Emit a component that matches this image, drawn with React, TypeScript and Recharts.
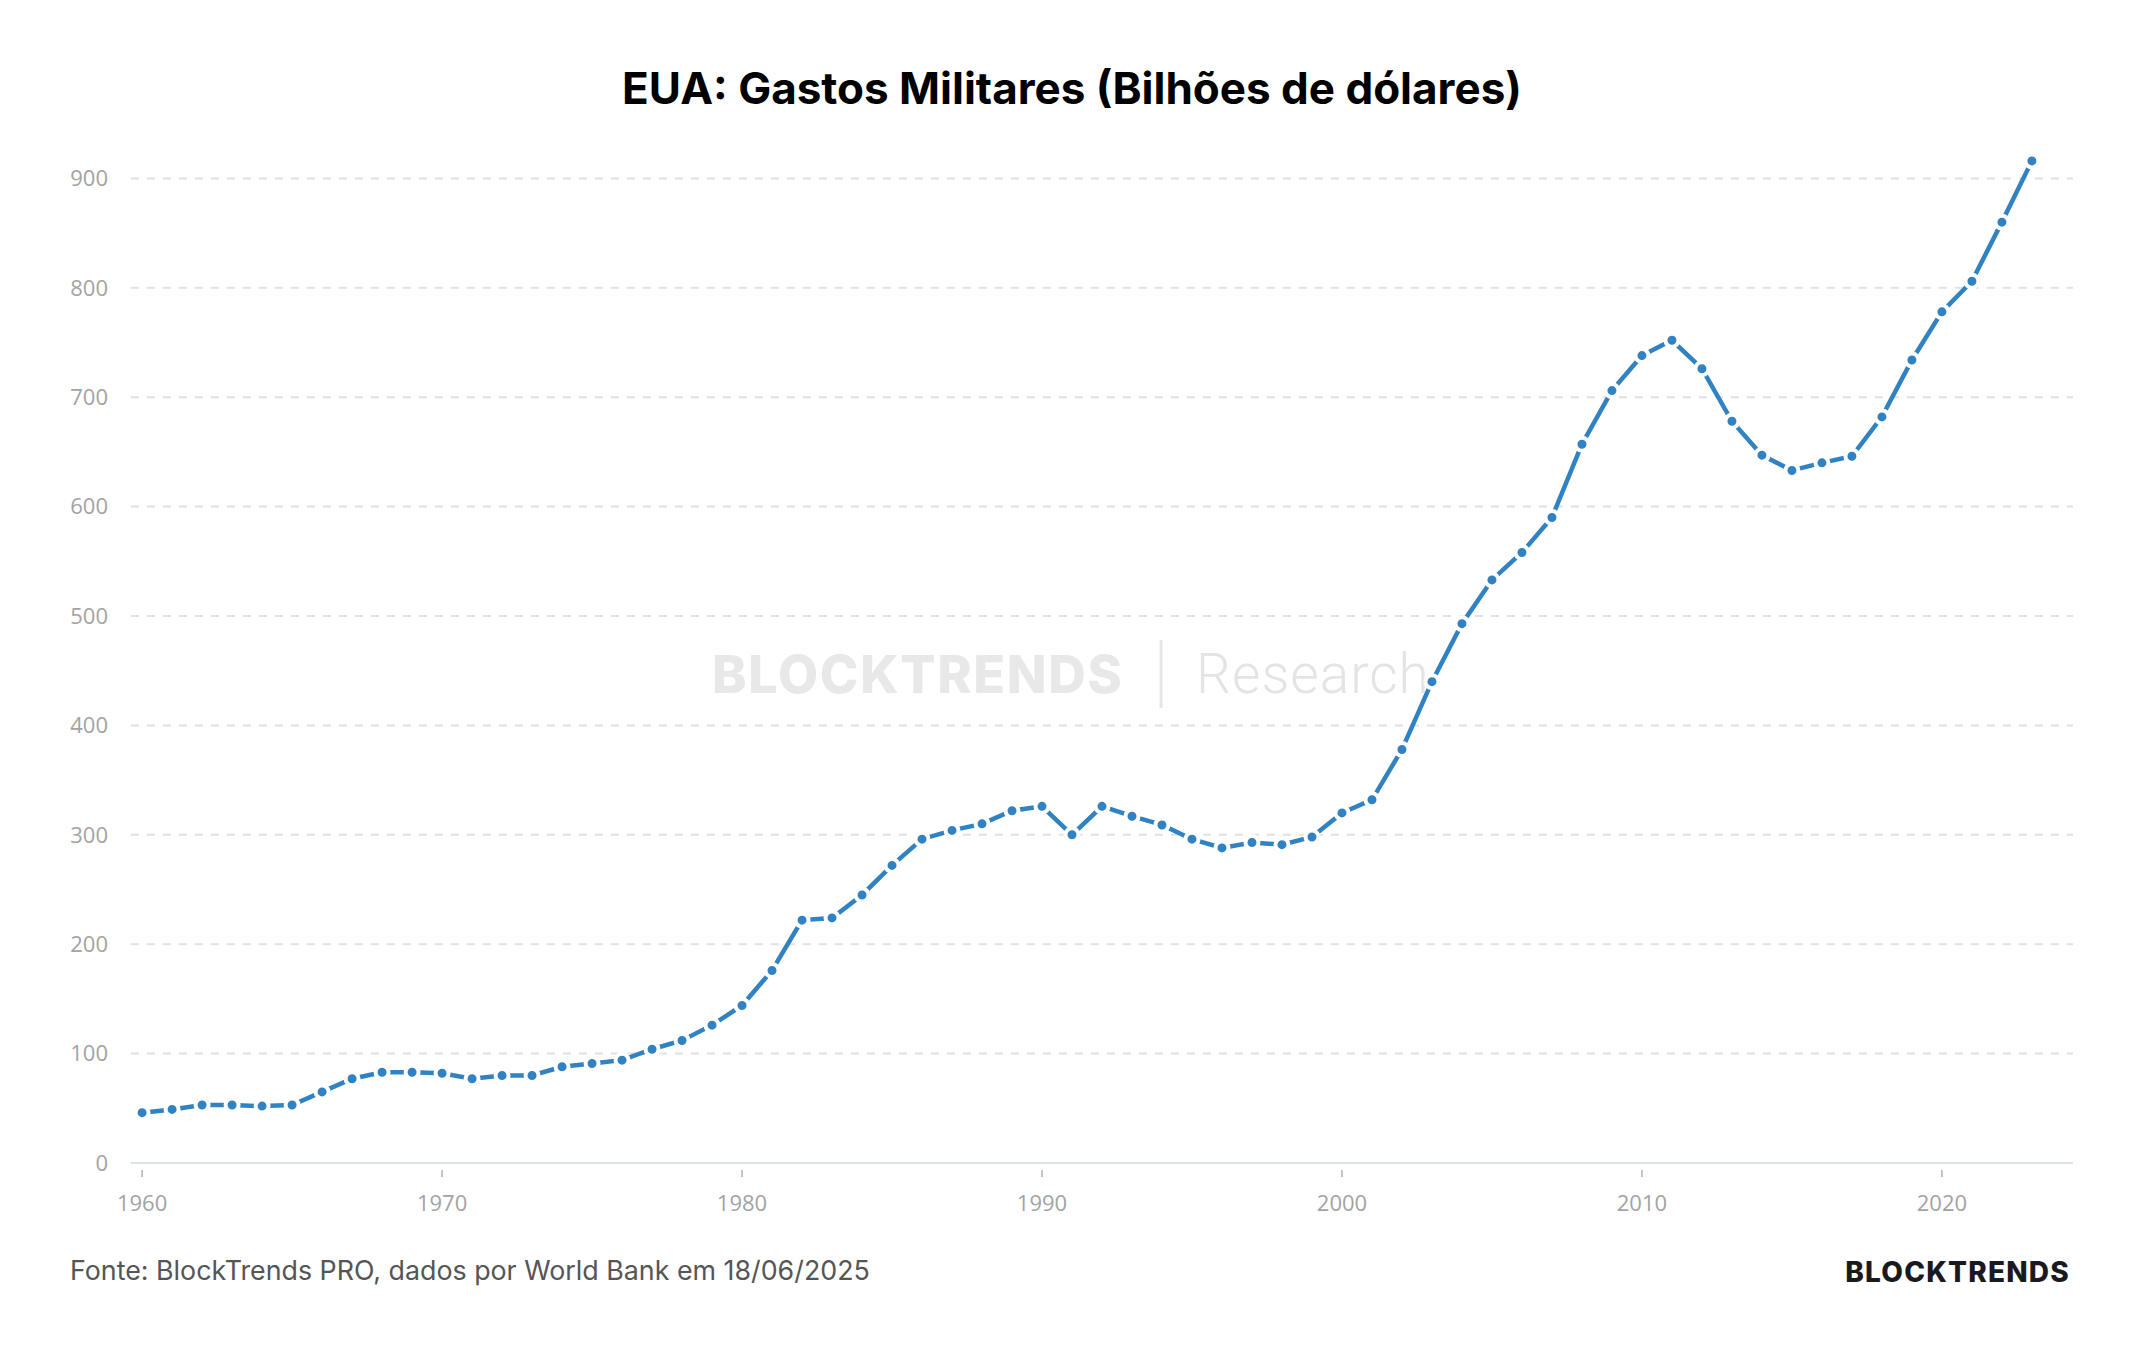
import React from 'react'
import { LineChart, Line, XAxis, YAxis, CartesianGrid } from 'recharts'

const years = [
  1960, 1961, 1962, 1963, 1964, 1965, 1966, 1967, 1968, 1969,
  1970, 1971, 1972, 1973, 1974, 1975, 1976, 1977, 1978, 1979,
  1980, 1981, 1982, 1983, 1984, 1985, 1986, 1987, 1988, 1989,
  1990, 1991, 1992, 1993, 1994, 1995, 1996, 1997, 1998, 1999,
  2000, 2001, 2002, 2003, 2004, 2005, 2006, 2007, 2008, 2009,
  2010, 2011, 2012, 2013, 2014, 2015, 2016, 2017, 2018, 2019,
  2020, 2021, 2022, 2023,
]

// bilhões de dólares
const spending = [
  46, 49, 53, 53, 52, 53, 65, 77, 83, 83,
  82, 77, 80, 80, 88, 91, 94, 104, 112, 126,
  144, 176, 222, 224, 245, 272, 296, 304, 310, 322,
  326, 300, 326, 317, 309, 296, 288, 293, 291, 298,
  320, 332, 378, 440, 493, 533, 558, 590, 657, 706,
  738, 752, 726, 678, 647, 633, 640, 646, 682, 734,
  778, 806, 860, 916,
]

const xTicks = [1960, 1970, 1980, 1990, 2000, 2010, 2020]
const yTicks = [0, 100, 200, 300, 400, 500, 600, 700, 800, 900]

const title = 'EUA: Gastos Militares (Bilhões de dólares)'
const source = 'Fonte: BlockTrends PRO, dados por World Bank em 18/06/2025'

const data = years.map((year, i) => ({ year, value: spending[i] }))

const BLUE = '#3082c3'
const AXIS_TEXT = '#a3a3a3'

const YearTick = (props: any) => {
  const { x, y, payload } = props
  return (
    <g>
      <line x1={x} x2={x} y1={y + 7} y2={y + 14} stroke="#b0b0b0" strokeWidth={1.5} />
      <text x={x} y={y + 48} textAnchor="middle" fill={AXIS_TEXT} fontSize={22} fontFamily="'Open Sans', sans-serif">
        {payload.value}
      </text>
    </g>
  )
}

const App = () => {
  return (
    <div style={{ position: 'absolute', left: 0, top: 0, width: 2144, height: 1350, background: '#fff' }}>
      <svg width={2144} height={1350} style={{ position: 'absolute', left: 0, top: 0 }}>
        <text x={1072} y={104} textAnchor="middle" fontSize={44} fontWeight={700} fill="#000" fontFamily="Inter, sans-serif">
          {title}
        </text>
        {/* marca d'água */}
        <text x={712} y={693} fontSize={52} fontWeight={800} letterSpacing={1.7} fill="#e8e8e8" fontFamily="Inter, sans-serif">BLOCKTRENDS</text>
        <line x1={1161} x2={1161} y1={640} y2={708} stroke="#e6e6e6" strokeWidth={3} />
        <text x={1196} y={693} fontSize={55} fontWeight={300} letterSpacing={1} fill="#e4e4e4" fontFamily="Roboto, sans-serif">Research</text>
        <text x={70} y={1280} fontSize={26.8} fill="#555" fontFamily="Inter, sans-serif">{source}</text>
        <text x={2070} y={1282} textAnchor="end" fontSize={28} fontWeight={800} letterSpacing={1.2} fill="#1a1a1e" fontFamily="Inter, sans-serif">BLOCKTRENDS</text>
      </svg>
      <div style={{ position: 'absolute', left: 0, top: 0 }}>
        <LineChart width={2144} height={1350} data={data} margin={{ top: 156.5, right: 71, bottom: 127, left: 31 }}>
          <CartesianGrid vertical={false} horizontalValues={yTicks} stroke="#e2e2e2" strokeWidth={2} strokeDasharray="8 8" />
          <XAxis
            dataKey="year"
            type="number"
            domain={[1959.63, 2024.37]}
            ticks={xTicks}
            height={60}
            tickSize={0}
            tickMargin={0}
            tickLine={false}
            axisLine={{ stroke: '#dde3ea', strokeWidth: 2 }}
            tick={<YearTick />}
          />
          <YAxis
            type="number"
            domain={[0, 920]}
            ticks={yTicks}
            width={100}
            tickSize={0}
            tickMargin={23}
            tickLine={false}
            axisLine={false}
            tick={{ fill: AXIS_TEXT, fontSize: 22, fontFamily: "'Open Sans', sans-serif" }}
          />
          <Line
            type="linear"
            dataKey="value"
            stroke={BLUE}
            strokeWidth={4.5}
            dot={{ r: 6.5, fill: BLUE, stroke: '#fff', strokeWidth: 4 }}
            activeDot={false}
            isAnimationActive={false}
          />
        </LineChart>
      </div>
    </div>
  )
}

export default App
